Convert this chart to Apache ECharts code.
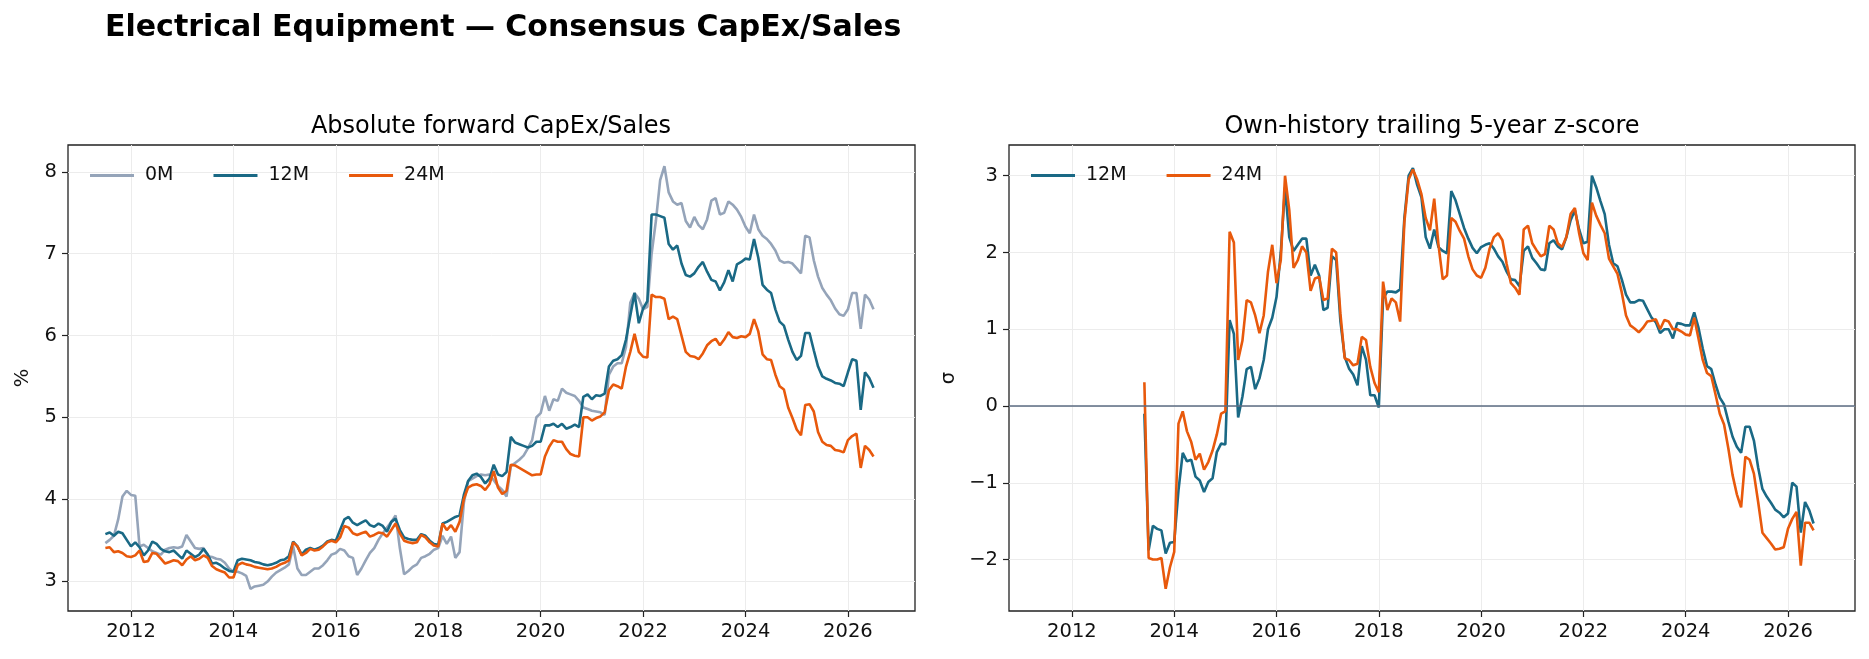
<!DOCTYPE html>
<html>
<head>
<meta charset="utf-8">
<title>Electrical Equipment — Consensus CapEx/Sales</title>
<script src="https://cdn.jsdelivr.net/npm/echarts@6.0.0/dist/echarts.min.js"></script>
<style>
  html, body { margin: 0; padding: 0; background: #fff; }
  #main { width: 1869px; height: 659px; }
</style>
</head>
<body>
<div id="main"></div>
<script>
// monthly observations, Jul 2011 .. Jul 2026
var FIRST_YEAR = 2011, FIRST_MONTH = 7, N_MONTHS = 181;
var months = [];
for (var i = 0; i < N_MONTHS; i++) {
  months.push(FIRST_YEAR + (FIRST_MONTH - 1 + i) / 12);
}

// tick labels
var yearTicks = [2012, 2014, 2016, 2018, 2020, 2022, 2024, 2026];
var pctTicks = [3, 4, 5, 6, 7, 8];
var zTicks = [-2, -1, 0, 1, 2, 3];

// absolute forward CapEx/Sales (%)
var capex0M = [
  3.46, 3.50, 3.55, 3.75, 4.03, 4.10, 4.05, 4.04, 3.42, 3.44,
  3.40, 3.36, 3.34, 3.32, 3.38, 3.40, 3.41, 3.40, 3.42, 3.56,
  3.48, 3.40, 3.39, 3.40, 3.30, 3.29, 3.27, 3.26, 3.22, 3.15,
  3.11, 3.11, 3.09, 3.06, 2.90, 2.93, 2.94, 2.95, 2.99, 3.05,
  3.10, 3.13, 3.16, 3.20, 3.42, 3.15, 3.07, 3.07, 3.11, 3.15,
  3.15, 3.19, 3.25, 3.32, 3.34, 3.39, 3.37, 3.30, 3.28, 3.07,
  3.15, 3.25, 3.34, 3.40, 3.50, 3.58, 3.65, 3.72, 3.80, 3.40,
  3.08, 3.12, 3.17, 3.20, 3.28, 3.30, 3.33, 3.38, 3.40, 3.55,
  3.45, 3.54, 3.28, 3.35, 3.95, 4.22, 4.25, 4.28, 4.30, 4.29,
  4.30, 4.23, 4.16, 4.11, 4.03, 4.40, 4.44, 4.48, 4.53, 4.62,
  4.72, 5.00, 5.05, 5.26, 5.08, 5.22, 5.20, 5.35, 5.30, 5.28,
  5.26, 5.20, 5.12, 5.10, 5.08, 5.07, 5.06, 5.03, 5.52, 5.62,
  5.66, 5.66, 5.86, 6.40, 6.52, 6.45, 6.32, 6.35, 7.00, 7.40,
  7.90, 8.07, 7.75, 7.64, 7.60, 7.62, 7.40, 7.32, 7.45, 7.35,
  7.30, 7.42, 7.65, 7.68, 7.48, 7.50, 7.64, 7.60, 7.54, 7.45,
  7.33, 7.25, 7.48, 7.30, 7.22, 7.18, 7.12, 7.04, 6.92, 6.89,
  6.90, 6.88, 6.82, 6.76, 7.22, 7.20, 6.92, 6.72, 6.58, 6.50,
  6.43, 6.33, 6.26, 6.24, 6.32, 6.52, 6.52, 6.08, 6.50, 6.44, 6.32
];
var capex12M = [
  3.57, 3.59, 3.55, 3.60, 3.58, 3.50, 3.42, 3.47, 3.41, 3.31,
  3.37, 3.48, 3.45, 3.39, 3.36, 3.35, 3.37, 3.32, 3.27, 3.37,
  3.33, 3.29, 3.32, 3.39, 3.32, 3.21, 3.22, 3.19, 3.15, 3.12,
  3.11, 3.25, 3.27, 3.26, 3.25, 3.23, 3.22, 3.20, 3.19, 3.20,
  3.22, 3.25, 3.26, 3.30, 3.48, 3.42, 3.32, 3.38, 3.40, 3.38,
  3.40, 3.43, 3.48, 3.50, 3.49, 3.62, 3.75, 3.78, 3.71, 3.68,
  3.71, 3.74, 3.68, 3.66, 3.70, 3.67, 3.60, 3.72, 3.76, 3.62,
  3.53, 3.51, 3.50, 3.50, 3.57, 3.55, 3.49, 3.45, 3.44, 3.70,
  3.72, 3.75, 3.78, 3.80, 4.05, 4.22, 4.29, 4.31, 4.27, 4.19,
  4.25, 4.42, 4.30, 4.28, 4.33, 4.76, 4.69, 4.67, 4.65, 4.63,
  4.65, 4.70, 4.70, 4.90, 4.90, 4.92, 4.88, 4.92, 4.86, 4.88,
  4.91, 4.88, 5.25, 5.28, 5.22, 5.27, 5.26, 5.29, 5.62, 5.69,
  5.71, 5.76, 5.95, 6.24, 6.52, 6.15, 6.33, 6.42, 7.48, 7.48,
  7.46, 7.44, 7.12, 7.05, 7.10, 6.88, 6.74, 6.72, 6.76, 6.84,
  6.90, 6.78, 6.68, 6.66, 6.55, 6.65, 6.80, 6.66, 6.87, 6.90,
  6.94, 6.93, 7.18, 6.95, 6.62, 6.56, 6.52, 6.32, 6.17, 6.12,
  5.95, 5.80, 5.70, 5.75, 6.03, 6.03, 5.82, 5.62, 5.50, 5.47,
  5.45, 5.42, 5.41, 5.38, 5.55, 5.71, 5.69, 5.09, 5.55, 5.48, 5.36
];
var capex24M = [
  3.40, 3.41, 3.35, 3.36, 3.34, 3.30, 3.29, 3.31, 3.37, 3.23,
  3.24, 3.34, 3.33, 3.27, 3.21, 3.23, 3.25, 3.24, 3.19, 3.26,
  3.30, 3.25, 3.27, 3.31, 3.28, 3.18, 3.14, 3.12, 3.10, 3.04,
  3.04, 3.19, 3.22, 3.20, 3.19, 3.17, 3.16, 3.15, 3.14, 3.15,
  3.17, 3.20, 3.22, 3.25, 3.47, 3.42, 3.31, 3.34, 3.39, 3.37,
  3.38, 3.42, 3.47, 3.49, 3.47, 3.53, 3.67, 3.65, 3.58, 3.56,
  3.58, 3.60, 3.54, 3.56, 3.59, 3.58, 3.54, 3.62, 3.70, 3.58,
  3.49, 3.47, 3.46, 3.47, 3.56, 3.53, 3.47, 3.43, 3.42, 3.70,
  3.62, 3.68, 3.60, 3.72, 4.00, 4.14, 4.17, 4.18, 4.16, 4.11,
  4.18, 4.34, 4.14, 4.06, 4.10, 4.42, 4.41, 4.38, 4.35, 4.32,
  4.29, 4.30, 4.30, 4.52, 4.64, 4.72, 4.70, 4.70, 4.61, 4.55,
  4.53, 4.52, 5.00, 5.00, 4.96, 4.99, 5.01, 5.06, 5.33, 5.40,
  5.38, 5.35, 5.62, 5.80, 6.02, 5.80, 5.74, 5.73, 6.50, 6.47,
  6.47, 6.45, 6.20, 6.23, 6.20, 6.00, 5.80, 5.75, 5.74, 5.71,
  5.78, 5.88, 5.93, 5.96, 5.88, 5.95, 6.04, 5.98, 5.97, 5.99,
  5.98, 6.02, 6.20, 6.05, 5.77, 5.71, 5.70, 5.52, 5.38, 5.34,
  5.12, 4.99, 4.85, 4.78, 5.15, 5.16, 5.07, 4.82, 4.70, 4.66,
  4.65, 4.60, 4.59, 4.57, 4.72, 4.77, 4.80, 4.38, 4.65, 4.60, 4.52
];

// own-history trailing 5-year z-score (sigma), starts mid 2013
var z12M = [
  null, null, null, null, null, null, null, null, null, null,
  null, null, null, null, null, null, null, null, null, null,
  null, null, null, -0.10, -1.88, -1.56, -1.60, -1.62, -1.92, -1.78,
  -1.77, -1.10, -0.61, -0.72, -0.70, -0.92, -0.97, -1.12, -0.99, -0.94,
  -0.60, -0.49, -0.50, 1.12, 0.94, -0.15, 0.12, 0.48, 0.51, 0.22,
  0.36, 0.60, 1.00, 1.15, 1.42, 2.00, 2.85, 2.20, 2.02, 2.10,
  2.18, 2.18, 1.70, 1.84, 1.70, 1.25, 1.28, 1.95, 1.90, 1.10,
  0.64, 0.49, 0.41, 0.27, 0.78, 0.60, 0.14, 0.14, -0.02, 1.40,
  1.49, 1.49, 1.48, 1.52, 2.45, 3.00, 3.10, 2.88, 2.72, 2.20,
  2.05, 2.30, 2.07, 2.02, 1.99, 2.80, 2.68, 2.50, 2.32, 2.18,
  2.06, 1.99, 2.07, 2.10, 2.12, 2.05, 1.95, 1.88, 1.75, 1.65,
  1.64, 1.56, 2.02, 2.08, 1.93, 1.86, 1.78, 1.77, 2.12, 2.16,
  2.08, 2.04, 2.20, 2.42, 2.55, 2.30, 2.12, 2.14, 3.00, 2.85,
  2.67, 2.50, 2.10, 1.86, 1.82, 1.65, 1.45, 1.35, 1.35, 1.38,
  1.37, 1.26, 1.15, 1.09, 0.95, 1.00, 1.00, 0.88, 1.08, 1.07,
  1.05, 1.05, 1.22, 1.02, 0.75, 0.52, 0.48, 0.28, 0.11, 0.02,
  -0.20, -0.40, -0.53, -0.61, -0.27, -0.27, -0.45, -0.80, -1.08, -1.18,
  -1.26, -1.35, -1.39, -1.45, -1.40, -1.00, -1.05, -1.65, -1.25, -1.36, -1.53
];
var z24M = [
  null, null, null, null, null, null, null, null, null, null,
  null, null, null, null, null, null, null, null, null, null,
  null, null, null, 0.31, -1.98, -2.00, -2.00, -1.98, -2.38, -2.10,
  -1.90, -0.23, -0.07, -0.33, -0.47, -0.70, -0.62, -0.83, -0.73, -0.58,
  -0.37, -0.10, -0.07, 2.27, 2.13, 0.60, 0.85, 1.38, 1.35, 1.18,
  0.95, 1.18, 1.75, 2.10, 1.60, 1.90, 3.00, 2.55, 1.80, 1.90,
  2.08, 2.00, 1.50, 1.66, 1.68, 1.38, 1.40, 2.05, 2.00, 1.20,
  0.62, 0.60, 0.53, 0.55, 0.90, 0.86, 0.51, 0.30, 0.18, 1.62,
  1.25, 1.40, 1.35, 1.10, 2.40, 2.95, 3.08, 2.95, 2.76, 2.45,
  2.29, 2.70, 2.10, 1.65, 1.70, 2.45, 2.40, 2.28, 2.18, 1.95,
  1.78, 1.70, 1.67, 1.80, 2.05, 2.20, 2.25, 2.16, 1.85, 1.60,
  1.54, 1.45, 2.30, 2.35, 2.12, 2.03, 1.95, 1.98, 2.35, 2.30,
  2.12, 2.07, 2.20, 2.50, 2.58, 2.25, 1.99, 1.90, 2.65, 2.48,
  2.36, 2.25, 1.92, 1.82, 1.72, 1.48, 1.18, 1.05, 1.01, 0.96,
  1.02, 1.10, 1.11, 1.13, 1.00, 1.12, 1.10, 1.00, 1.00, 0.97,
  0.93, 0.92, 1.15, 0.88, 0.60, 0.43, 0.39, 0.15, -0.10, -0.24,
  -0.55, -0.90, -1.15, -1.32, -0.66, -0.70, -0.88, -1.25, -1.65, -1.72,
  -1.79, -1.87, -1.86, -1.84, -1.60, -1.47, -1.38, -2.08, -1.52, -1.52, -1.62
];

var FONT = 'DejaVu Sans';
var C0 = '#95a4b9', C12 = '#1a6985', C24 = '#e8590c';

function pairs(vals) {
  return months.map(function (m, i) { return [m, vals[i]]; });
}

function minusFmt(v) {
  return v < 0 ? '\u2212' + Math.abs(v) : String(v);
}

function xAxisFor(idx) {
  return {
    type: 'value', gridIndex: idx, min: 2010.77, max: 2027.31,
    axisLine: { show: false, onZero: false },
    axisTick: { show: true, length: 6, customValues: yearTicks, lineStyle: { color: '#222', width: 1.2 } },
    axisLabel: { customValues: yearTicks, formatter: function (v) { return String(v); },
      color: '#111', fontSize: 19.5, fontFamily: FONT, margin: 11 },
    splitLine: { show: true, lineStyle: { color: '#ececec', width: 1 } }
  };
}

function yAxisFor(idx, lo, hi, ticks, name, gap) {
  return {
    type: 'value', gridIndex: idx, min: lo, max: hi,
    name: name, nameLocation: 'middle', nameGap: gap, nameRotate: 90,
    nameTextStyle: { fontSize: 19.5, fontFamily: FONT, color: '#111' },
    axisLine: { show: false, onZero: false },
    axisTick: { show: true, length: 6, customValues: ticks, lineStyle: { color: '#222', width: 1.2 } },
    axisLabel: { customValues: ticks, formatter: minusFmt, color: '#111', fontSize: 19.5, fontFamily: FONT, margin: 11 },
    splitLine: { show: true, lineStyle: { color: '#ececec', width: 1 } }
  };
}

function line(name, vals, color, idx, extra) {
  var s = {
    name: name, type: 'line', xAxisIndex: idx, yAxisIndex: idx,
    data: pairs(vals), showSymbol: false, symbol: 'none',
    lineStyle: { color: color, width: 2.6 }, itemStyle: { color: color },
    animation: false, connectNulls: false
  };
  if (extra) { for (var k in extra) s[k] = extra[k]; }
  return s;
}

var legendBase = {
  orient: 'horizontal', icon: 'rect', itemWidth: 44, itemHeight: 3, itemGap: 40,
  textStyle: { fontSize: 19, fontFamily: FONT, color: '#111', padding: [0, 0, 0, 6] },
  selectedMode: false
};

var chart = echarts.init(document.getElementById('main'), null, { renderer: 'canvas' });

var option = {
  backgroundColor: '#ffffff',
  animation: false,
  title: {
    text: 'Electrical Equipment — Consensus CapEx/Sales',
    left: 100, top: 8,
    textStyle: { fontSize: 30, fontWeight: 'bold', fontFamily: FONT, color: '#000' }
  },
  graphic: [
    { type: 'text', x: 491, y: 127, style: { text: 'Absolute forward CapEx/Sales', fontSize: 24, fontFamily: FONT,
      fill: '#000', align: 'center', verticalAlign: 'middle' } },
    { type: 'text', x: 1432, y: 127, style: { text: 'Own-history trailing 5-year z-score', fontSize: 24, fontFamily: FONT,
      fill: '#000', align: 'center', verticalAlign: 'middle' } }
  ],
  legend: [
    Object.assign({}, legendBase, { data: ['0M', '12M', '24M'], left: 85, top: 161 }),
    Object.assign({}, legendBase, { data: ['12M', '24M'], left: 1026, top: 161 })
  ],
  grid: [
    { left: 68, top: 145, width: 847, height: 466, show: true, borderColor: '#222', borderWidth: 1.3, backgroundColor: 'transparent' },
    { left: 1009, top: 145, width: 846, height: 466, show: true, borderColor: '#222', borderWidth: 1.3, backgroundColor: 'transparent' }
  ],
  xAxis: [xAxisFor(0), xAxisFor(1)],
  yAxis: [
    yAxisFor(0, 2.63, 8.33, pctTicks, '%', 35),
    yAxisFor(1, -2.67, 3.40, zTicks, 'σ', 50)
  ],
  series: [
    line('0M', capex0M, C0, 0),
    line('12M', capex12M, C12, 0),
    line('24M', capex24M, C24, 0),
    line('12M', z12M, C12, 1, {
      markLine: {
        silent: true, symbol: 'none', label: { show: false },
        lineStyle: { color: '#5b6b82', width: 1.6, type: 'solid' },
        data: [{ yAxis: 0 }], animation: false
      }
    }),
    line('24M', z24M, C24, 1)
  ]
};

chart.setOption(option);
</script>
</body>
</html>
